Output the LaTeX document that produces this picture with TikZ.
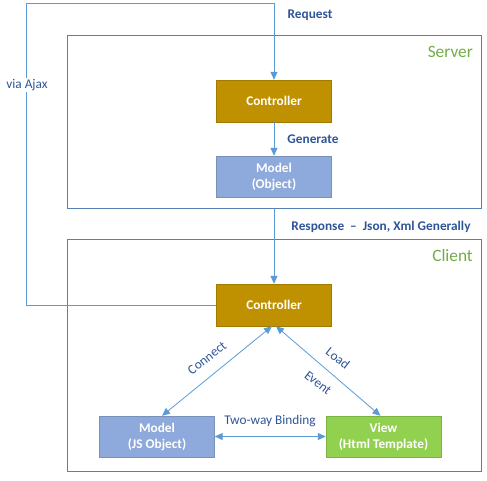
\documentclass[tikz,border=0pt]{standalone}
\usepackage{fontspec}
\setmainfont{Carlito}
\usetikzlibrary{arrows.meta}
\definecolor{gold}{HTML}{BF9000}
\definecolor{modelc}{HTML}{8EA9DB}
\definecolor{viewc}{HTML}{92D050}
\definecolor{linec}{HTML}{5B9BD5}
\definecolor{boxc}{HTML}{5582B6}
\definecolor{labc}{HTML}{2F5597}
\definecolor{grn}{HTML}{70AD47}
\tikzset{
  container/.style={draw=boxc, line width=1pt, rectangle, inner sep=0pt},
  block/.style={rectangle, minimum width=115pt, minimum height=42pt, inner sep=0pt, align=center,
    text=white, font=\fontsize{13.3}{16}\selectfont\bfseries, draw=#1!85!black, line width=0.4pt, fill=#1},
  conn/.style={draw=linec, line width=1pt},
  tip/.style={-{Triangle[length=8pt,width=7pt]}},
  tips/.style={{Triangle[length=8pt,width=7pt]}-{Triangle[length=8pt,width=7pt]}},
  lab/.style={text=labc, font=\fontsize{13.3}{16}\selectfont, inner sep=1pt},
  blab/.style={lab, font=\fontsize{13.3}{16}\selectfont\bfseries},
  title/.style={text=grn, font=\fontsize{17.3}{20}\selectfont, inner sep=0pt}
}
\begin{document}
\begin{tikzpicture}[x=1pt,y=-1pt]
\useasboundingbox (0,0) rectangle (487,480);
\node[container, minimum width=414pt, minimum height=173pt] (server) at (274,121.5) {};
\node[container, minimum width=414pt, minimum height=232pt] (client) at (274,355) {};
\node[title, anchor=east] (stitle) at (473,52) {Server};
\node[title, anchor=east] (ctitle) at (473,256) {Client};

\node[block=gold] (sctrl) at (274,101) {Controller};
\node[block=modelc, minimum height=41pt] (smodel) at (274,176.5) {Model\\(Object)};
\node[block=gold] (cctrl) at (274,305) {Controller};
\node[block=modelc, minimum height=41pt] (cmodel) at (157,436.5) {Model\\(JS Object)};
\node[block=viewc, minimum height=41pt] (view) at (383.5,436.5) {View\\(Html Template)};

\coordinate (tl) at (26,3);
\draw[conn, tip] (cctrl.west) -| (tl) -| (sctrl.north);
\draw[conn, tip] (sctrl.south) -- (smodel.north);
\draw[conn, tip] (server.south) -- (cctrl.north);
\draw[conn, tips, line width=0.8pt] ([xshift=-2pt]cctrl.south) -- ([xshift=5pt]cmodel.north);
\draw[conn, tips, line width=0.8pt] ([xshift=2pt]cctrl.south) -- ([xshift=-3pt]view.north);
\draw[conn, tips] (cmodel.east) -- (view.west);

\node[blab] (lreq) at (310,15) {Request};
\node[blab] (lgen) at (313,139) {Generate};
\node[lab, fill=white] (lajax) at (27,85) {via Ajax};
\node[blab] (lresp) at (381,227) {Response ~–~ Json, Xml Generally};
\node[lab, rotate=38] (lcon) at (207,358) {Connect};
\node[lab, rotate=-38] (lload) at (338,358) {Load};
\node[lab, rotate=-38] (levent) at (318,383) {Event};
\node[lab] (lbind) at (270,421) {Two-way Binding};
\end{tikzpicture}
\end{document}
